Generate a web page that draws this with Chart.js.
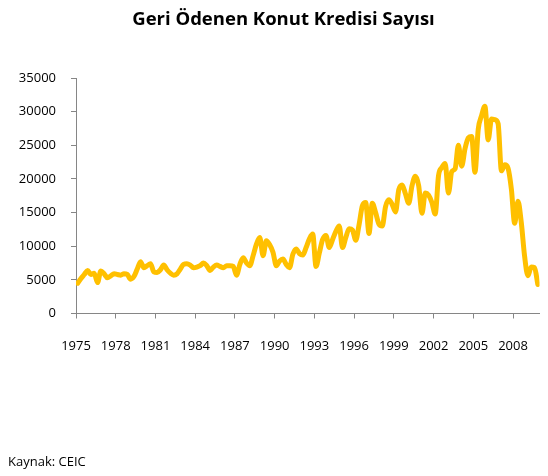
<!DOCTYPE html>
<html>
<head>
<meta charset="utf-8">
<script src="https://cdn.jsdelivr.net/npm/chart.js@4/dist/chart.umd.min.js"></script>
<style>
  html, body { margin: 0; padding: 0; background: #fff; }
  #wrap { position: relative; width: 548px; height: 476px; }
  #title { position: absolute; left: 0; width: 567px; top: 5px; text-align: center;
           font-family: "Open Sans", sans-serif; font-weight: bold; font-size: 18.5px; color: #000; }
  #source { position: absolute; left: 8px; top: 452px; font-family: "Open Sans", sans-serif;
            font-size: 13px; color: #000; }
  canvas { position: absolute; left: 0; top: 0; }
</style>
</head>
<body>
<div id="wrap">
  <canvas id="c" width="548" height="476"></canvas>
  <div id="title">Geri Ödenen Konut Kredisi Sayısı</div>
  <div id="source">Kaynak: CEIC</div>
</div>
<script>
// Tick labels on the x axis (every 3 years, quarterly data 1975Q1-2009Q4)
const yearLabels = ["1975","1978","1981","1984","1987","1990","1993","1996","1999","2002","2005","2008"];
const startYear = 1975;
// Quarterly number of repaid housing loans
const values = [
  4500,5200,5800,6400, 5800,6000,4600,6300, 5900,5300,5600,5900,
  5800,5700,5900,5800, 5100,5500,6600,7700, 6800,7100,7400,6200,
  6100,6500,7200,6500, 6000,5700,5900,6600, 7300,7400,7200,6800,
  6900,7100,7500,7100, 6400,6900,7200,7000, 6800,7100,7100,7000,
  5700,7300,8300,7500, 7100,8600,10300,11300, 8600,10800,10200,9100,
  7100,7800,8100,7300, 6800,8800,9600,8900, 8700,9800,11100,11800,
  7000,9000,11000,11600, 9800,11000,12200,13000, 9800,11300,12600,12400,
  10900,13200,16000,16500, 11900,16400,15000,13300, 13000,15900,16900,16200,
  15100,18400,19100,17800, 16400,19000,20400,19000, 14900,17900,17600,16500,
  14800,20500,21700,22300, 17900,21100,21500,25000, 21900,24500,26100,26300,
  21000,27400,29400,30800, 25800,28900,28800,28200, 21200,22100,21600,18500,
  13400,16700,13500,8500, 5600,6900,6800,4300
];
const yTicks = [0,5000,10000,15000,20000,25000,30000,35000];

const points = values.map((v, i) => ({ x: i, y: v }));
const axisColor = '#868686';
const tickFont = { family: '"Open Sans", sans-serif', size: 13 };

new Chart(document.getElementById('c'), {
  type: 'line',
  data: {
    datasets: [{
      data: points,
      borderColor: '#FFC000',
      borderWidth: 5,
      pointRadius: 0,
      fill: false,
      cubicInterpolationMode: 'monotone',
      borderJoinStyle: 'round',
      borderCapStyle: 'round'
    }]
  },
  options: {
    responsive: false,
    animation: false,
    events: [],
    layout: { padding: { top: 78, right: 2, left: 0, bottom: 0 } },
    plugins: { legend: { display: false }, tooltip: { enabled: false }, title: { display: false } },
    scales: {
      x: {
        type: 'linear',
        min: -0.5,
        max: values.length - 0.5,
        afterBuildTicks: (scale) => {
          scale.ticks = yearLabels.map((y) => ({ value: -0.5 + (Number(y) - startYear) * 4 }));
        },
        afterFit: (scale) => { scale.height = 162.5; },
        ticks: {
          autoSkip: false,
          maxRotation: 0,
          padding: 20,
          color: '#000',
          font: tickFont,
          callback: (v, idx) => yearLabels[idx]
        },
        grid: { drawOnChartArea: false, drawTicks: true, tickLength: 5, color: axisColor, lineWidth: 1 },
        border: { display: true, color: axisColor, width: 1 }
      },
      y: {
        min: 0,
        max: 35000,
        afterBuildTicks: (scale) => { scale.ticks = yTicks.map(v => ({ value: v })); },
        afterFit: (scale) => { scale.width = 76; },
        ticks: { padding: 15, color: '#000', font: tickFont, callback: (v) => String(v) },
        grid: { drawOnChartArea: false, drawTicks: true, tickLength: 5, color: axisColor, lineWidth: 1 },
        border: { display: true, color: axisColor, width: 1 }
      }
    }
  }
});
</script>
</body>
</html>
